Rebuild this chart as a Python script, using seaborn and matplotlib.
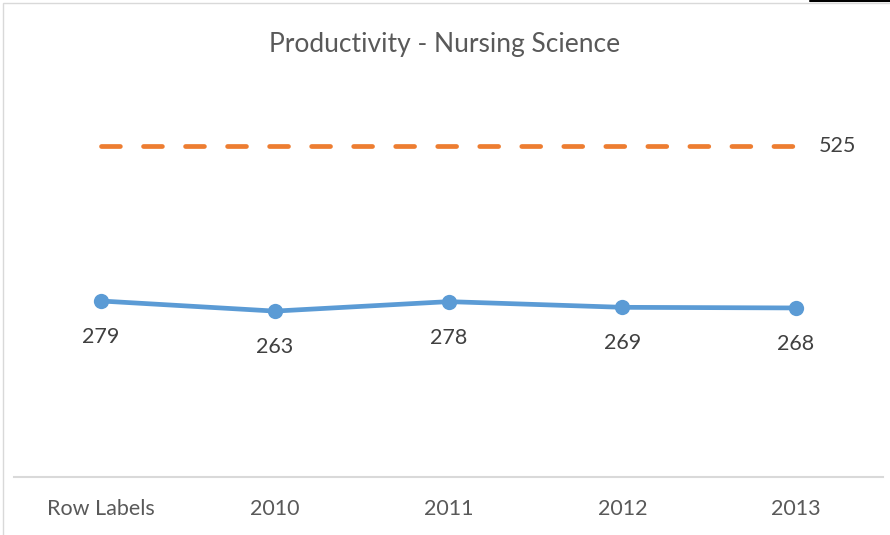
import numpy as np
import pandas as pd
import matplotlib
matplotlib.use("Agg")
import matplotlib.pyplot as plt
from matplotlib.patches import Rectangle
from matplotlib.lines import Line2D
import seaborn as sns

# データ
categories = ["Row Labels", "2010", "2011", "2012", "2013"]
productivity = [279, 263, 278, 269, 268]
target = [525, 525, 525, 525, 525]

sns.set_style("white")
plt.rcParams['font.family'] = ['Lato', 'DejaVu Sans']

df = pd.DataFrame({"cat": categories, "prod": productivity, "target": target})

fig = plt.figure(figsize=(8.9, 5.35), dpi=100)
ax = fig.add_axes([0.016, 0.108, 0.976, 0.706])

# 目標ライン（破線）
sns.lineplot(data=df, x="cat", y="target", ax=ax, color="#ED7D31",
             linewidth=3.4, sort=False)
ax.lines[-1].set_dashes((4.0, 4.9))
ax.lines[-1].set_dash_capstyle("round")

# 実績
sns.lineplot(data=df, x="cat", y="prod", ax=ax, color="#5B9BD5",
             linewidth=3.4, marker="o", markersize=11, markeredgewidth=0,
             sort=False)

for i, v in enumerate(productivity):
    ax.annotate(str(v), (i, v), xytext=(0, -26), textcoords="offset points",
                ha="center", va="center", fontsize=15.5, color="#404040")
ax.annotate(str(target[-1]), (len(categories) - 1, target[-1]), xytext=(30, 0),
            textcoords="offset points", ha="center", va="center",
            fontsize=15.5, color="#404040")

ax.set_xlim(-0.5, len(categories) - 0.5)
ax.set_ylim(0, 598)
ax.set_xlabel("")
ax.set_ylabel("")
ax.set_yticks([])
ax.tick_params(axis="x", length=0, pad=16, labelsize=15.5, labelcolor="#595959")
for s in ["top", "right", "left"]:
    ax.spines[s].set_visible(False)
ax.spines["bottom"].set_color("#D9D9D9")
ax.spines["bottom"].set_linewidth(1.5)

fig.suptitle("Productivity - Nursing Science", y=0.94, fontsize=19,
             color="#595959")

# 枠線
fig.patches.append(Rectangle((0.003, -0.01), 1.0, 1.004, transform=fig.transFigure,
                             fill=False, edgecolor="#D9D9D9", linewidth=1))
fig.lines.append(Line2D([0.91, 1.0], [0.999, 0.999], transform=fig.transFigure,
                        color="black", linewidth=1.5))

fig.savefig("out.png", dpi=100)
